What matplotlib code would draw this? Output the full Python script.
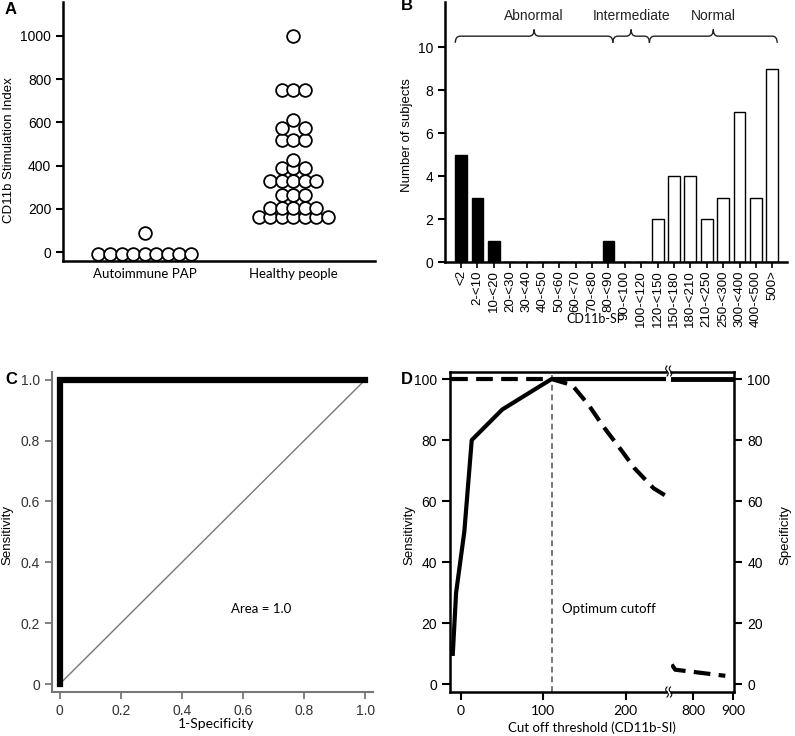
import numpy as np
import matplotlib
matplotlib.use('Agg')
import matplotlib.pyplot as plt
from matplotlib.path import Path
from matplotlib.patches import PathPatch
from matplotlib.lines import Line2D

plt.rcParams['font.family'] = 'Liberation Sans'
plt.rcParams['font.size'] = 10
CAL = 'Lato'   # stand-in for the Calibri labels

# ---- A: CD11b stimulation index per subject
groups = ['Autoimmune PAP', 'Healthy people']
pap_si = [-9, -9, -9, -9, -9, -9, -9, -9, -9, 90]
healthy_si = [1000, 748, 748, 748, 610, 572, 572, 517, 517, 517, 428,
              391, 391, 391, 330, 330, 330, 330, 330, 266, 266, 266,
              205, 205, 205, 205, 205, 162, 162, 162, 162, 162, 162, 162]

# ---- B: histogram of CD11b-SI
bins = ['<2', '2-<10', '10-<20', '20-<30', '30-<40', '40-<50', '50-<60',
        '60-<70', '70-<80', '80-<90', '90-<100', '100-<120', '120-<150',
        '150-<180', '180-<210', '210-<250', '250-<300', '300-<400',
        '400-<500', '500>']
n_subjects = [5, 3, 1, 0, 0, 0, 0, 0, 0, 1, 0, 0, 2, 4, 4, 2, 3, 7, 3, 9]
n_pap = 10   # first bins hold the PAP patients (black bars)
ranges = ['Abnormal', 'Intermediate', 'Normal']
range_edges = [-0.35, 9.27, 11.5, 19.3]

# ---- C: ROC curve
fpr = [0, 0, 1]
tpr = [0, 1, 1]

# ---- D: sensitivity / specificity vs cut off
sens_cut = [-10, -6, 4, 13, 50, 110, 250]
sens = [10, 30, 50, 80, 90, 100, 100]
sens_cut_hi = [744, 900]
sens_hi = [100, 100]
spec_cut = [-12, 110, 135, 155, 173, 193, 211, 234, 251]
spec = [100, 100, 98, 91.5, 84.4, 77.3, 70.7, 64.2, 61.4]
spec_cut_hi = [746, 755, 880]
spec_hi = [6.5, 4.8, 2.8]
opt_cutoff = 111

W, H = 795.0, 736.0
fig = plt.figure(figsize=(W / 100, H / 100), dpi=100)


def box(x0, y0, x1, y1):
    # pixel box -> figure fraction rect
    return [x0 / W, 1 - y1 / H, (x1 - x0) / W, (y1 - y0) / H]


def swarm_offsets(vals, step, ygap):
    # equal values go in one centred row; an even row gets spread out
    # when a point sits on the centre line just above it
    vals = np.asarray(vals)
    xs = np.zeros(len(vals))
    placed = []
    for v in sorted(set(vals), reverse=True):
        idx = np.where(vals == v)[0]
        offs = np.arange(len(idx)) - (len(idx) - 1) / 2.0
        if len(idx) % 2 == 0 and any(abs(v - pv) < ygap and po == 0 for pv, po in placed):
            offs = offs * 2
        for i, o in zip(idx, offs):
            xs[i] = o * step
            placed.append((v, o))
    return xs


def brace(ax, x0, x1, y0, h, w):
    xm = (x0 + x1) / 2.0
    ym = y0 + h / 2.0
    verts = [(x0, y0), (x0, ym), (x0 + w, ym),
             (xm - w, ym), (xm, ym), (xm, y0 + h),
             (xm, ym), (xm + w, ym),
             (x1 - w, ym), (x1, ym), (x1, y0)]
    codes = [Path.MOVETO, Path.CURVE3, Path.CURVE3,
             Path.LINETO, Path.CURVE3, Path.CURVE3,
             Path.CURVE3, Path.CURVE3,
             Path.LINETO, Path.CURVE3, Path.CURVE3]
    ax.add_patch(PathPatch(Path(verts, codes), fill=False, lw=1.0,
                           color='#222222', clip_on=False))


# ================= A
axA = fig.add_axes(box(63, 2, 375, 261))
for i, vals in enumerate([pap_si, healthy_si]):
    vals = np.sort(vals)
    offs = swarm_offsets(vals, 0.078, 50)
    axA.scatter(i + offs, vals, s=84, facecolor='white', edgecolor='black',
                linewidth=1.3, zorder=3, clip_on=False)
axA.set_xlim(-0.55, 1.55)
axA.set_ylim(-41, 1156)
axA.set_yticks(range(0, 1001, 200))
axA.set_xticks([0, 1])
axA.set_xticklabels(groups, fontfamily=CAL, fontsize=9.5)
axA.tick_params(axis='x', length=0, pad=5)
axA.tick_params(axis='y', length=5, width=1.5, labelsize=10)
for s in ['top', 'right']:
    axA.spines[s].set_visible(False)
for s in ['left', 'bottom']:
    axA.spines[s].set_linewidth(1.8)
axA.set_ylabel('CD11b Stimulation Index', fontsize=9.5)
axA.yaxis.set_label_coords(-0.155, 0.43)
fig.text(5 / W, 1 - 10 / H, 'A', fontsize=12, fontweight='bold', va='center')

# ================= B
axB = fig.add_axes(box(445, 2, 787, 262))
xb = np.arange(len(bins))
colors = ['black' if i < n_pap else 'white' for i in range(len(bins))]
axB.bar(xb, n_subjects, width=0.72, color=colors, edgecolor='black', linewidth=1.0)
axB.set_xlim(-0.98, 19.9)
axB.set_ylim(0, 12.1)
axB.set_yticks(range(0, 11, 2))
axB.set_xticks(xb)
axB.set_xticklabels(bins, rotation=90, fontsize=9.5)
axB.tick_params(axis='x', length=4, width=1.2, pad=2)
axB.tick_params(axis='y', length=5, width=1.5, labelsize=10)
for s in ['top', 'right']:
    axB.spines[s].set_visible(False)
for s in ['left', 'bottom']:
    axB.spines[s].set_linewidth(1.8)
for name, a, b in zip(ranges, range_edges[:-1], range_edges[1:]):
    brace(axB, a, b, 10.2, 0.62, 0.3)
    axB.text((a + b) / 2.0, 11.45, name, ha='center', va='center', fontsize=10,
             color='#222222')
axB.set_ylabel('Number of subjects', fontsize=9.5)
axB.yaxis.set_label_coords(-0.094, 0.49)
axB.set_xlabel('CD11b-SI', fontfamily=CAL, fontsize=9)
axB.xaxis.set_label_coords(0.435, -0.195)
fig.text(401 / W, 1 - 6 / H, 'B', fontsize=12, fontweight='bold', va='center')

# ================= C
axC = fig.add_axes(box(52, 372, 373, 692))
axC.plot([0, 1], [0, 1], color='#777777', lw=1.0)
axC.plot(fpr, tpr, color='black', lw=4.5, solid_joinstyle='miter')
axC.set_xlim(-0.025, 1.025)
axC.set_ylim(-0.026, 1.025)
ticks = [0, 0.2, 0.4, 0.6, 0.8, 1.0]
tlabels = ['0', '0.2', '0.4', '0.6', '0.8', '1.0']
axC.set_xticks(ticks)
axC.set_xticklabels(tlabels)
axC.set_yticks(ticks)
axC.set_yticklabels(tlabels)
axC.tick_params(length=5, width=1.3, color='#777777', labelcolor='#333333', labelsize=10)
for s in ['top', 'right']:
    axC.spines[s].set_visible(False)
for s in ['left', 'bottom']:
    axC.spines[s].set_linewidth(1.5)
    axC.spines[s].set_color('#777777')
axC.text(0.66, 0.246, 'Area = 1.0', ha='center', va='center', fontfamily=CAL, fontsize=9.5)
axC.set_ylabel('Sensitivity', fontsize=9.5)
axC.yaxis.set_label_coords(-0.12, 0.49)
axC.set_xlabel('1-Specificity', fontfamily=CAL, fontsize=10)
axC.xaxis.set_label_coords(0.51, -0.08)
fig.text(5 / W, 1 - 379 / H, 'C', fontsize=12, fontweight='bold', va='center')

# ================= D (broken x axis: two axes side by side)
axL = fig.add_axes(box(450, 372.3, 666, 691.7))
axR = fig.add_axes(box(671, 372.3, 734, 691.7), sharey=axL)

axL.axvline(opt_cutoff, color='#777777', lw=1.4, dashes=(3, 2))
axL.plot(spec_cut, spec, color='black', lw=3, dashes=(4, 2), dash_capstyle='butt')
axL.plot(sens_cut, sens, color='black', lw=3)
axR.plot(sens_cut_hi, sens_hi, color='black', lw=3.5)
axR.plot(spec_cut_hi, spec_hi, color='black', lw=3, dashes=(4, 2))
axL.text(123, 24.7, 'Optimum cutoff', va='center', fontfamily=CAL, fontsize=9.5)

axL.set_xlim(-13.4, 249)
axR.set_xlim(744.3, 901.7)
axL.set_ylim(-2.4, 102.2)
axL.set_yticks(range(0, 101, 20))
axL.set_xticks([0, 100, 200])
axR.set_xticks([800, 900])
for ax in (axL, axR):
    for lab in ax.get_xticklabels():
        lab.set_fontfamily(CAL)
    ax.tick_params(length=6, width=1.5, labelsize=10)
    for s in ax.spines.values():
        s.set_linewidth(1.8)
axL.spines['right'].set_visible(False)
axR.spines['left'].set_visible(False)
axR.yaxis.tick_right()
axR.tick_params(axis='y', labelright=True, labelleft=False)

axL.set_ylabel('Sensitivity', fontsize=9.5)
axL.yaxis.set_label_coords(-0.16, 0.49)
axR.yaxis.set_label_position('right')
axR.set_ylabel('Specificity', fontsize=9.5)
axR.yaxis.set_label_coords(1.72, 0.49)
axL.set_xlabel('Cut off threshold (CD11b-SI)', fontfamily=CAL, fontsize=9.5)
axL.xaxis.set_label_coords(0.656, -0.092)
fig.text(401 / W, 1 - 379 / H, 'D', fontsize=12, fontweight='bold', va='center')

# break marks on the top and bottom spines
t = np.linspace(-1, 1, 40)
for yc in (371, 692):
    for xc in (667, 670.5):
        xs = (xc + 1.3 * np.sin(np.pi * t)) / W
        ys = 1 - (yc + 5 * t) / H
        fig.add_artist(Line2D(xs, ys, color='black', lw=0.8, transform=fig.transFigure))

fig.savefig('out.png', dpi=100)
